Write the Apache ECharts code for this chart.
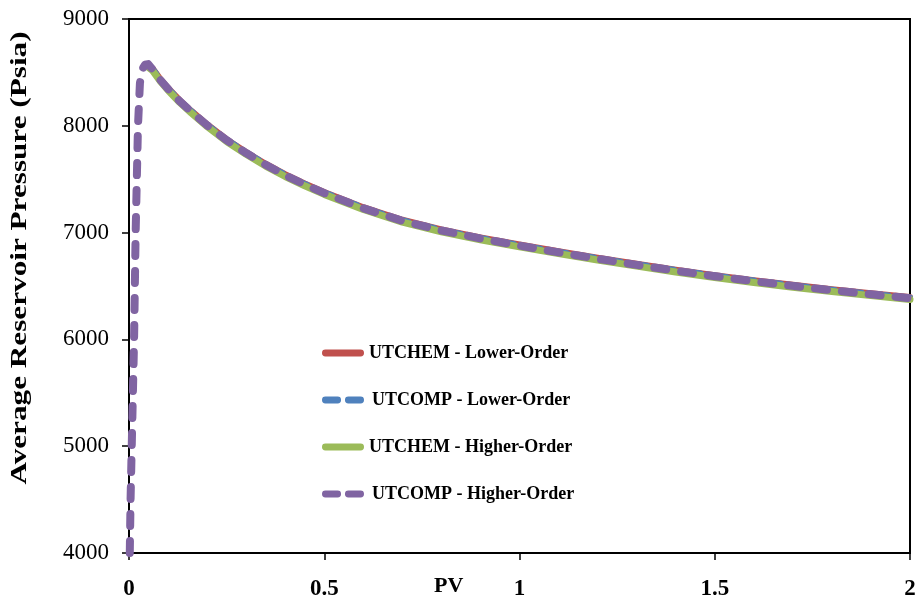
<!DOCTYPE html>
<html>
<head>
<meta charset="utf-8">
<script src="https://cdn.jsdelivr.net/npm/echarts@6/dist/echarts.min.js"></script>
<style>html,body{margin:0;padding:0;background:#fff}#c{width:920px;height:603px}</style>
</head>
<body>
<div id="c"></div>
<script>
// PV values and average reservoir pressure (psia)
const pvRise = [0.002,0.004,0.007,0.010,0.013,0.015,0.017,0.020,0.023,0.028,0.034,0.041,0.049,0.06,0.08,0.10,0.13,0.16,0.20,0.25,0.30,0.35,0.40,0.45,0.50,0.60,0.70,0.80,0.90,1.00,1.10,1.20,1.30,1.40,1.50,1.60,1.70,1.80,1.90,2.00];
const utcompHigher = [4000,4500,5000,5500,6000,6500,7000,7500,8000,8400,8530,8572,8578,8530,8430,8345,8230,8130,8005,7865,7745,7635,7537,7450,7370,7228,7110,7020,6945,6878,6815,6755,6698,6643,6592,6545,6501,6460,6422,6386];

const pvDecline = [0.045,0.06,0.08,0.10,0.13,0.16,0.20,0.25,0.30,0.35,0.40,0.45,0.50,0.60,0.70,0.80,0.90,1.00,1.10,1.20,1.30,1.40,1.50,1.60,1.70,1.80,1.90,2.00];
const utchemLower  = [8570,8540,8440,8355,8240,8140,8015,7875,7755,7645,7547,7460,7380,7238,7120,7030,6955,6888,6825,6765,6708,6653,6602,6555,6511,6470,6432,6396];
const utcompLower  = [8562,8536,8436,8351,8236,8136,8011,7871,7751,7641,7543,7456,7376,7234,7116,7026,6951,6884,6821,6761,6704,6649,6598,6551,6507,6466,6428,6392];
const utchemHigher = [8560,8518,8418,8333,8218,8118,7993,7853,7733,7623,7525,7438,7358,7216,7098,7008,6933,6866,6803,6743,6686,6631,6580,6533,6489,6448,6410,6374];

const seriesNames = ['UTCHEM - Lower-Order','UTCOMP - Lower-Order','UTCHEM - Higher-Order','UTCOMP - Higher-Order'];
const xTicks = {min:0, max:2, step:0.5};
const yTicks = {min:4000, max:9000, step:1000};

function pairs(xs, ys){ return xs.map((x,i)=>[x, ys[i]]); }

const serif = "'Liberation Serif', 'DejaVu Serif', serif";
const solidIcon = 'path://M3.5,0 H39.5 A3.5,3.5 0 0 1 39.5,7 H3.5 A3.5,3.5 0 0 1 3.5,0 Z';
const dashIcon = 'path://M3.5,0 H16 A3.5,3.5 0 0 1 16,7 H3.5 A3.5,3.5 0 0 1 3.5,0 Z M27,0 H39.5 A3.5,3.5 0 0 1 39.5,7 H27 A3.5,3.5 0 0 1 27,0 Z';

const chart = echarts.init(document.getElementById('c'), null, {renderer:'canvas'});
chart.setOption({
  animation:false,
  backgroundColor:'#fff',
  grid:{left:129, right:10, top:19, bottom:50, show:true, borderColor:'#000', borderWidth:2, backgroundColor:'transparent'},
  xAxis:{type:'value', min:xTicks.min, max:xTicks.max, interval:xTicks.step,
    axisLine:{show:true, onZero:false, lineStyle:{color:'#000', width:2}},
    axisTick:{show:true, inside:false, length:7, lineStyle:{color:'#000', width:1.5}},
    splitLine:{show:false},
    axisLabel:{margin:25, color:'#000', fontFamily:serif, fontSize:23, fontWeight:'bold'}
  },
  yAxis:{type:'value', min:yTicks.min, max:yTicks.max, interval:yTicks.step,
    axisLine:{show:true, onZero:false, lineStyle:{color:'#000', width:2}},
    axisTick:{show:true, inside:false, length:7, lineStyle:{color:'#000', width:1.5}},
    splitLine:{show:false},
    axisLabel:{margin:20, color:'#000', fontFamily:serif, fontSize:23, formatter:v=>String(v)}
  },
  legend:{show:true, orient:'vertical', left:322, top:344, padding:0, itemGap:29, itemWidth:42, itemHeight:7,
    data:[
      {name:seriesNames[0], icon:solidIcon},
      {name:seriesNames[1], icon:dashIcon, textStyle:{padding:[0,0,0,3]}},
      {name:seriesNames[2], icon:solidIcon},
      {name:seriesNames[3], icon:dashIcon, textStyle:{padding:[0,0,0,3]}}
    ],
    textStyle:{fontFamily:serif, fontSize:18, fontWeight:'bold', color:'#000'}
  },
  graphic:[
    {type:'text', left:434, top:575, style:{text:'PV', font:"bold 22px 'Liberation Serif'", fill:'#000'}},
    {type:'text', x:8, y:258, rotation:Math.PI/2, scaleX:1.3, style:{text:'Average Reservoir Pressure (Psia)', font:"bold 24px 'Liberation Serif'", fill:'#000', textAlign:'center', textVerticalAlign:'top'}}
  ],
  series:[
    {name:seriesNames[0], type:'line', data:pairs(pvDecline, utchemLower), showSymbol:false, symbol:'none', smooth:false,
      lineStyle:{color:'#C0504D', width:6, cap:'round', join:'round'}, itemStyle:{color:'#C0504D'}},
    {name:seriesNames[1], type:'line', data:pairs(pvDecline, utcompLower), showSymbol:false, symbol:'none', smooth:false,
      lineStyle:{color:'#4F81BD', width:6, type:[13,14], cap:'round', join:'round'}, itemStyle:{color:'#4F81BD'}},
    {name:seriesNames[2], type:'line', data:pairs(pvDecline, utchemHigher), showSymbol:false, symbol:'none', smooth:false,
      lineStyle:{color:'#9BBB59', width:7, cap:'round', join:'round'}, itemStyle:{color:'#9BBB59'}},
    {name:seriesNames[3], type:'line', data:pairs(pvRise, utcompHigher), showSymbol:false, symbol:'none', smooth:false,
      lineStyle:{color:'#8064A2', width:8, type:[12,15], cap:'round', join:'round'}, itemStyle:{color:'#8064A2'}}
  ]
});
</script>
</body>
</html>
